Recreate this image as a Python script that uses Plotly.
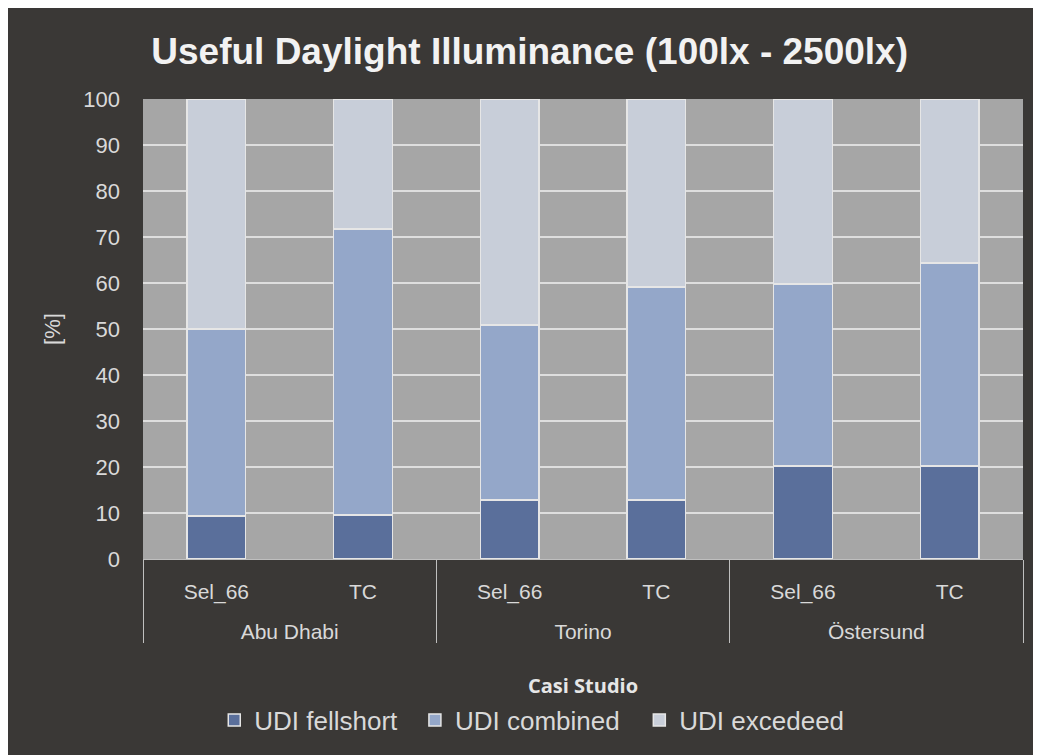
import plotly.graph_objects as go

cities = ["Abu Dhabi", "Abu Dhabi", "Torino", "Torino", "Östersund", "Östersund"]
variants = ["Sel_66", "TC", "Sel_66", "TC", "Sel_66", "TC"]
udi_fellshort = [9.4, 9.6, 12.8, 12.8, 20.2, 20.2]
udi_combined = [40.6, 62.1, 38.1, 46.3, 39.6, 44.1]
udi_exceeded = [50.0, 28.3, 49.1, 40.9, 40.2, 35.7]

series = [
    ("UDI fellshort", udi_fellshort, "#5a6f9b", "legend", 0.081),
    ("UDI combined", udi_combined, "#94a7c9", "legend2", 0.309),
    ("UDI excedeed", udi_exceeded, "#c8ced9", "legend3", 0.564),
]

LBL = "<span style='font-size:21px'>{}</span>"
x_outer = ["<br>" + LBL.format(c) for c in cities]
x_inner = [LBL.format(v) for v in variants]

fig = go.Figure()
legends = {}
for name, vals, col, lg, lx in series:
    fig.add_trace(go.Bar(
        name=name, x=[x_outer, x_inner], y=vals,
        marker=dict(color=col, line=dict(color="#e6e6e6", width=1.5)),
        width=0.4, legend=lg,
    ))
    legends[lg] = dict(orientation="h", x=lx, xanchor="left", y=-0.35, yanchor="middle",
                       font=dict(size=26, color="#d9d9d9"), bgcolor="rgba(0,0,0,0)",
                       itemwidth=30)

fig.update_layout(
    barmode="stack",
    width=1033, height=747,
    paper_bgcolor="#3a3836",
    plot_bgcolor="#a6a6a6",
    margin=dict(l=135, r=18, t=91, b=196),
    font=dict(family="Liberation Sans, Arial", color="#d9d9d9", size=17),
    title=dict(text="<b>Useful Daylight Illuminance (100lx - 2500lx)</b>",
               x=0.505, xanchor="center", xref="container",
               y=0.942, yanchor="middle",
               font=dict(size=37, color="#f2f2f2")),
    showlegend=True,
    **legends,
)
fig.update_yaxes(
    range=[0, 100], dtick=10, showgrid=True, gridcolor="#dedede", gridwidth=1.5,
    tickfont=dict(size=22, color="#d9d9d9"), zeroline=False, ticks="",
    ticklabelstandoff=22,
    title=dict(text="[%]", font=dict(size=22, color="#d9d9d9"), standoff=16),
    showline=False,
)
fig.update_xaxes(
    showdividers=True, dividercolor="#bfbfbf", dividerwidth=1,
    showline=True, linecolor="#bfbfbf", linewidth=1,
    tickfont=dict(size=21, color="#d9d9d9"),
    ticklabelstandoff=14,
    title=dict(text="<b>Casi Studio</b>", standoff=37,
               font=dict(size=20, color="#e6e6e6", family="Open Sans, Liberation Sans")),
    ticks="",
)

fig.write_html(
    "out.html",
    post_script="document.documentElement.style.overflow='hidden';"
                "document.body.style.overflow='hidden';",
)
